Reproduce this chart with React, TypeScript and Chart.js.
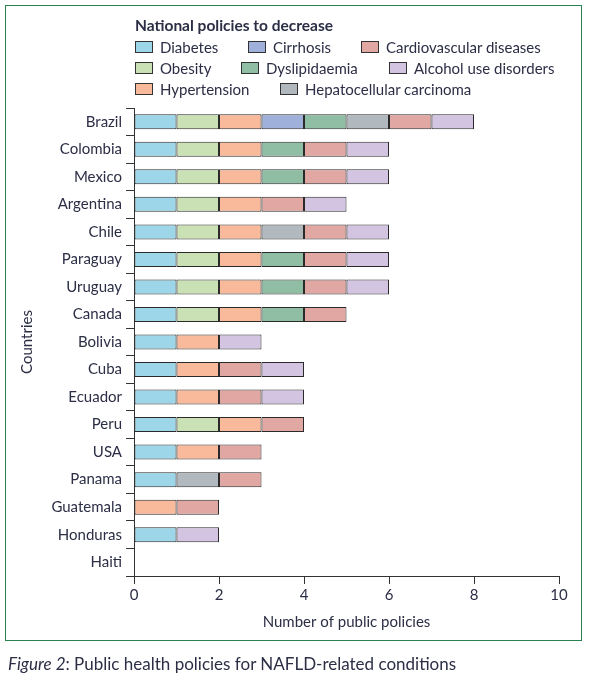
import React, { useEffect, useRef } from "react";
import { Chart, registerables } from "chart.js";

Chart.register(...registerables);

const countries = [
  "Brazil", "Colombia", "Mexico", "Argentina", "Chile", "Paraguay", "Uruguay", "Canada",
  "Bolivia", "Cuba", "Ecuador", "Peru", "USA", "Panama", "Guatemala", "Honduras", "Haiti",
];

const seriesNames = [
  "Diabetes", "Obesity", "Hypertension", "Cirrhosis", "Dyslipidaemia",
  "Hepatocellular carcinoma", "Cardiovascular diseases", "Alcohol use disorders",
];

const diabetes =      [1, 1, 1, 1, 1, 1, 1, 1, 1, 1, 1, 1, 1, 1, 0, 1, 0];
const obesity =       [1, 1, 1, 1, 1, 1, 1, 1, 0, 0, 0, 1, 0, 0, 0, 0, 0];
const hypertension =  [1, 1, 1, 1, 1, 1, 1, 1, 1, 1, 1, 1, 1, 0, 1, 0, 0];
const cirrhosis =     [1, 0, 0, 0, 0, 0, 0, 0, 0, 0, 0, 0, 0, 0, 0, 0, 0];
const dyslipidaemia = [1, 1, 1, 0, 0, 1, 1, 1, 0, 0, 0, 0, 0, 0, 0, 0, 0];
const hcc =           [1, 0, 0, 0, 1, 0, 0, 0, 0, 0, 0, 0, 0, 1, 0, 0, 0];
const cardio =        [1, 1, 1, 1, 1, 1, 1, 1, 0, 1, 1, 1, 1, 1, 1, 0, 0];
const alcohol =       [1, 1, 1, 1, 1, 1, 1, 0, 1, 1, 1, 0, 0, 0, 0, 1, 0];

const seriesValues = [diabetes, obesity, hypertension, cirrhosis, dyslipidaemia, hcc, cardio, alcohol];

const seriesColors = [
  "#9dd6e8", "#c9e1b5", "#f9b99b", "#9fb0da", "#8fbea4", "#b2b9be", "#e1a7a3", "#d3c4e2",
];

const xTicks = [0, 2, 4, 6, 8, 10];

// legend layout: [left, centerY] per series index
const legendPos: [number, number][] = [
  [135, 47], [135, 68], [135, 89], [248, 47], [241, 68], [280, 89], [361, 47], [389, 68],
];

const TEXT = "#2b2e45";
const FONT = "Lato, 'Open Sans', sans-serif";

function ChartCanvas() {
  const ref = useRef<HTMLCanvasElement | null>(null);
  useEffect(() => {
    if (!ref.current) return;
    const chart = new Chart(ref.current, {
      type: "bar",
      data: {
        labels: countries,
        datasets: seriesNames.map((name, i) => ({
          label: name,
          data: seriesValues[i].map((v) => (v === 0 ? null : v)),
          backgroundColor: seriesColors[i],
          borderColor: "#2a2a2a",
          borderWidth: 1,
          borderSkipped: false,
          categoryPercentage: 1,
          barPercentage: 0.545,
        })),
      },
      options: {
        indexAxis: "y",
        animation: false,
        responsive: false,
        devicePixelRatio: 1,
        layout: { padding: { top: 108, right: 32, left: 0, bottom: 0 } },
        plugins: { legend: { display: false }, tooltip: { enabled: false } },
        scales: {
          x: {
            stacked: true,
            min: 0,
            max: 10,
            afterBuildTicks: (scale: any) => {
              scale.ticks = xTicks.map((v) => ({ value: v }));
            },
            afterFit: (scale: any) => {
              scale.height = 104;
            },
            grid: {
              drawOnChartArea: false,
              drawTicks: true,
              tickLength: 8,
              color: "#333",
            },
            border: { display: true, color: "#333", width: 1 },
            ticks: {
              color: TEXT,
              font: { family: FONT, size: 15 },
              padding: 2,
              maxRotation: 0,
            },
            title: {
              display: true,
              text: "Number of public policies",
              color: TEXT,
              font: { family: FONT, size: 15 },
              padding: { top: 0, bottom: 49 },
            },
          },
          y: {
            stacked: true,
            afterFit: (scale: any) => {
              scale.width = 134;
            },
            grid: {
              offset: true,
              drawOnChartArea: false,
              drawTicks: true,
              tickLength: 8,
              color: "#333",
            },
            border: { display: true, color: "#333", width: 1 },
            ticks: {
              color: TEXT,
              font: { family: FONT, size: 15 },
              padding: 4,
            },
            title: {
              display: true,
              text: "Countries",
              color: TEXT,
              font: { family: FONT, size: 15 },
              padding: { top: 18, bottom: 0 },
            },
          },
        },
      },
    });
    return () => chart.destroy();
  }, []);
  return (
    <canvas
      ref={ref}
      width={591}
      height={680}
      style={{ position: "absolute", left: 0, top: 0, width: 591, height: 680 }}
    />
  );
}

export default function App() {
  return (
    <div
      style={{
        position: "fixed",
        left: 0,
        top: 0,
        width: 591,
        height: 680,
        background: "#fff",
        fontFamily: FONT,
        color: TEXT,
        overflow: "hidden",
      }}
    >
      <div
        style={{
          position: "absolute",
          left: 5,
          top: 5,
          width: 575,
          height: 634,
          border: "1.5px solid #27834f",
        }}
      />
      <ChartCanvas />
      <div
        style={{
          position: "absolute",
          left: 135,
          top: 16,
          fontSize: 15.5,
          lineHeight: "18px",
          fontWeight: 700,
          whiteSpace: "nowrap",
        }}
      >
        National policies to decrease
      </div>
      {seriesNames.map((name, i) => (
        <div
          key={name}
          style={{
            position: "absolute",
            left: legendPos[i][0],
            top: legendPos[i][1] - 9,
            height: 18,
            display: "flex",
            alignItems: "center",
            whiteSpace: "nowrap",
            fontSize: 15,
          }}
        >
          <span
            style={{
              display: "inline-block",
              width: 16,
              height: 10,
              background: seriesColors[i],
              border: "1px solid #333",
              marginRight: 7,
            }}
          />
          <span>{name}</span>
        </div>
      ))}
      <div
        style={{
          position: "absolute",
          left: 8,
          top: 654,
          fontSize: 17,
          lineHeight: "20px",
          whiteSpace: "nowrap",
        }}
      >
        <i>Figure 2</i>: Public health policies for NAFLD-related conditions
      </div>
    </div>
  );
}
